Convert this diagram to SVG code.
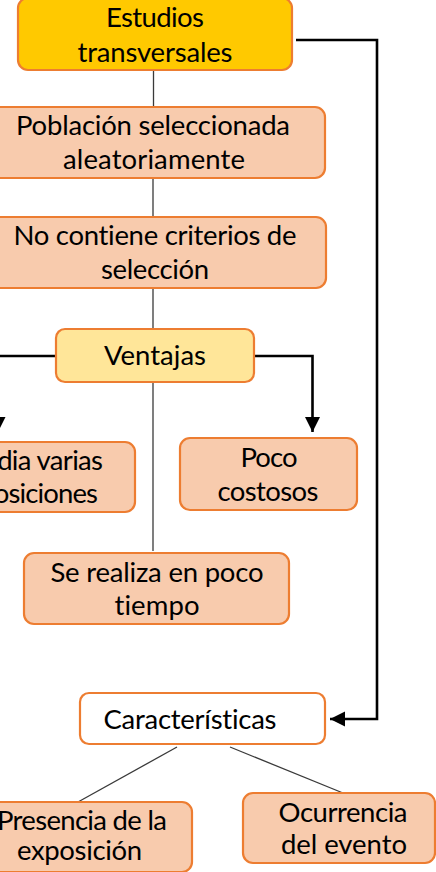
<svg xmlns="http://www.w3.org/2000/svg" width="436" height="872" viewBox="0 0 436 872">
<style>
.box{stroke:#ED7D31;stroke-width:2.2}
.peach{fill:#F8CBAD}
.t{font-family:Lato,"Liberation Sans",sans-serif;font-size:27.5px;fill:#000;text-anchor:middle;font-variant-ligatures:none;font-feature-settings:"liga" 0}
.thin{stroke:#3a3a3a;stroke-width:1.3;fill:none}
.thick{stroke:#000;stroke-width:2.6;fill:none}
</style>
<defs>
<marker id="ah" markerUnits="userSpaceOnUse" markerWidth="16" markerHeight="16" refX="15" refY="7.5" orient="auto">
<path d="M0,0 L15,7.5 L0,15 Z" fill="#000"/>
</marker>
</defs>
<rect width="436" height="872" fill="#fff"/>
<g id="connectors">
<line class="thin" x1="153.5" y1="71" x2="153.5" y2="108"/>
<line class="thin" x1="153" y1="178" x2="153" y2="216"/>
<line class="thin" x1="153" y1="288" x2="153" y2="329"/>
<line class="thin" x1="153" y1="382" x2="153" y2="551"/>
<line class="thin" x1="177" y1="747" x2="78" y2="802"/>
<line class="thin" x1="230" y1="747" x2="343" y2="793"/>
<path class="thick" d="M56,356 H-2 V432" marker-end="url(#ah)"/>
<path class="thick" d="M254,356 H312.5 V432" marker-end="url(#ah)"/>
<path class="thick" d="M296,40 H377 V719 H330" marker-end="url(#ah)"/>
</g>
<g id="n1">
<rect class="box" x="18" y="-2" width="274" height="72" rx="10" fill="#FFC900"/>
<text class="t" x="155" y="27" textLength="98">Estudios</text>
<text class="t" x="155" y="62" textLength="155">transversales</text>
</g>
<g id="n2">
<rect class="box peach" x="-20" y="107" width="345" height="71" rx="10"/>
<text class="t" x="153" y="135" textLength="274">Población seleccionada</text>
<text class="t" x="154" y="169" textLength="182">aleatoriamente</text>
</g>
<g id="n3">
<rect class="box peach" x="-20" y="217" width="346" height="71" rx="10"/>
<text class="t" x="155" y="245" textLength="283">No contiene criterios de</text>
<text class="t" x="155" y="279" textLength="108">selección</text>
</g>
<g id="n4">
<rect class="box" x="56" y="329" width="198" height="53" rx="9" fill="#FFE699"/>
<text class="t" x="155" y="365" textLength="102">Ventajas</text>
</g>
<g id="n5">
<rect class="box peach" x="-85" y="442" width="220" height="70" rx="10"/>
<text class="t" x="25" y="470" textLength="156">Estudia varias</text>
<text class="t" x="25.5" y="503" textLength="145">exposiciones</text>
</g>
<g id="n6">
<rect class="box peach" x="180" y="438" width="177" height="72" rx="10"/>
<text class="t" x="269" y="467" textLength="57">Poco</text>
<text class="t" x="268" y="501" textLength="101">costosos</text>
</g>
<g id="n7">
<rect class="box peach" x="24" y="553" width="265" height="71" rx="10"/>
<text class="t" x="157" y="582" textLength="213">Se realiza en poco</text>
<text class="t" x="157" y="615" textLength="85">tiempo</text>
</g>
<g id="n8">
<rect class="box" x="80" y="693" width="245" height="51" rx="9" fill="#fff"/>
<text class="t" x="190" y="729" textLength="173">Características</text>
</g>
<g id="n9">
<rect class="box peach" x="-32" y="802" width="224" height="70" rx="10"/>
<text class="t" x="82" y="830" textLength="170">Presencia de la</text>
<text class="t" x="79.5" y="860" textLength="125">exposición</text>
</g>
<g id="n10">
<rect class="box peach" x="243" y="793" width="192" height="70" rx="10"/>
<text class="t" x="343" y="822" textLength="129">Ocurrencia</text>
<text class="t" x="344" y="854" textLength="126">del evento</text>
</g>
</svg>
